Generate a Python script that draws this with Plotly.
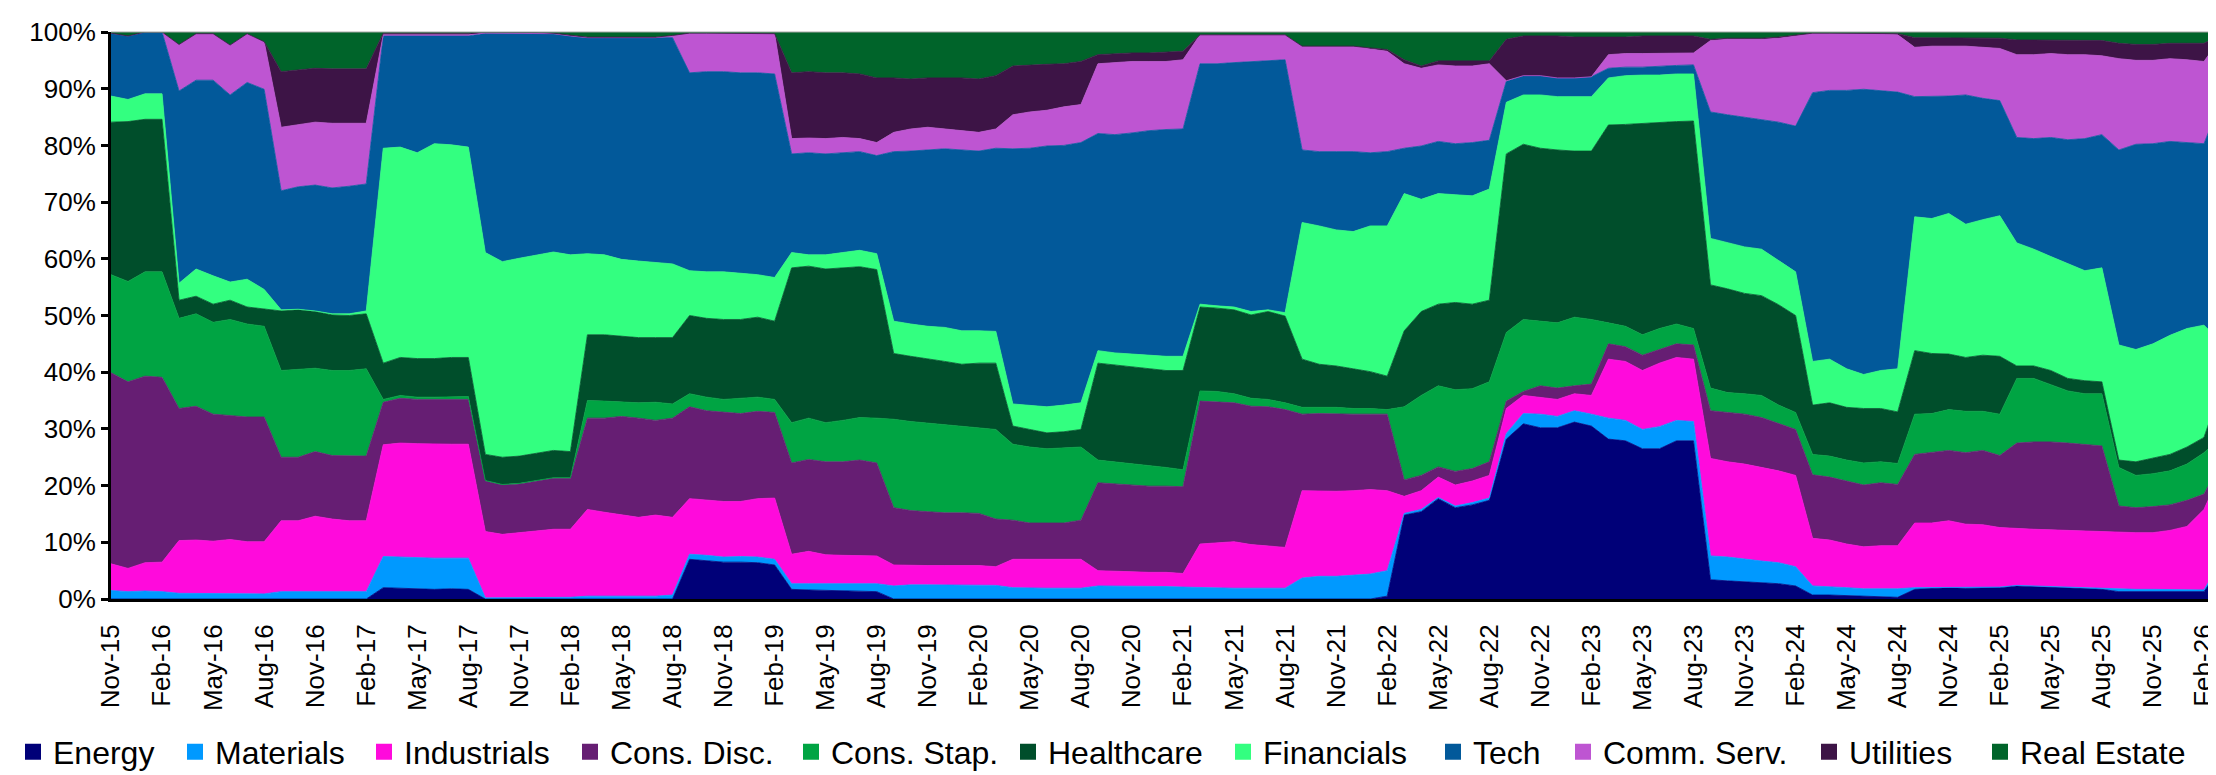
import plotly.graph_objects as go
import pandas as pd

# Monthly categories Nov-15 .. Mar-26
months = pd.date_range("2015-11-01", periods=125, freq="MS").strftime("%b-%y").tolist()
tick_labels = months[::3]

energy = ([0]*16 + [2.0, 1.9, 1.8, 1.7, 1.8, 1.7] + [0]*12 + [7.0, 6.7, 6.5, 6.5, 6.4, 6.0]
          + [1.7, 1.6, 1.5, 1.4, 1.4, 1.3] + [0]*29 + [0.5]
          + [14.8, 15.4, 17.7, 16.1, 16.6, 17.4]
          + [28.2, 30.9, 30.2, 30.2, 31.2, 30.5, 28.2, 27.9, 26.5, 26.5, 27.9, 27.9]
          + [3.4, 3.2, 3.0, 2.8, 2.7, 2.3] + [0.7, 0.7, 0.6, 0.5, 0.5, 0.3]
          + [1.7, 1.9, 2.0, 1.9, 2.0, 2.0] + [2.3, 2.2, 2.0, 2.0, 1.9, 1.7]
          + [1.3, 1.3, 1.4, 1.4, 1.4, 1.3] + [5.7])

materials = ([1.5, 1.3, 1.4, 1.3] + [1.0, 1.0, 1.0, 0.9, 1.0, 0.9] + [1.3]*6
             + [5.5, 5.5, 5.4, 5.5, 5.4, 5.5] + [0.2, 0.2, 0.2, 0.2, 0.2, 0.3]
             + [0.5, 0.5, 0.5, 0.5, 0.5, 0.7] + [0.9, 1.0, 0.9, 1.0, 1.0, 1.0]
             + [1.0, 1.1, 1.2, 1.3, 1.3, 1.4] + [2.3, 2.5, 2.5, 2.5, 2.5, 2.5, 2.4]
             + [2.0, 1.9, 1.9, 1.9, 1.9] + [2.3, 2.3, 2.2, 2.2, 2.2, 2.1]
             + [2.0, 1.9, 1.9, 1.9, 1.9, 1.9] + [3.7, 4.0, 4.0, 4.2, 4.4, 4.5]
             + [0.3, 0.4, 0.2, 0.3, 0.4, 0.4] + [1.0, 1.8, 2.4, 2.0, 2.0, 2.1]
             + [3.7, 3.6, 3.4, 3.9, 3.6, 3.4] + [4.2, 4.2, 4.0, 3.9, 3.7, 3.4]
             + [1.6, 1.5, 1.4, 1.3, 1.3, 1.5] + [0.3, 0.1, 0.1, 0.1, 0.1, 0.1]
             + [0.1]*6 + [0.4, 0.4, 0.3, 0.3, 0.3, 0.3] + [1.0])

industrials = ([4.7, 4.1, 5.0, 5.2] + [9.3, 9.4, 9.2, 9.6, 9.1, 9.2]
               + [12.5, 12.5, 13.3, 12.8, 12.5, 12.5] + [19.7, 20.1, 20.2, 20.1, 20.1, 20.1]
               + [11.7, 11.2, 11.5, 11.9, 12.1, 12.0] + [15.3, 14.8, 14.4, 13.9, 14.3, 13.7]
               + [9.8, 9.7, 9.8, 9.7, 10.3, 10.8] + [5.2, 5.7, 5.1, 5.0, 5.0, 4.9]
               + [3.7, 3.4, 3.4, 3.4, 3.4, 3.4, 3.3] + [5.0, 5.1, 5.1, 5.1, 5.1]
               + [2.7, 2.6, 2.5, 2.5, 2.5, 2.4] + [7.7, 8.0, 8.2, 7.7, 7.5, 7.2]
               + [15.4, 15.0, 15.0, 14.9, 14.9, 14.1] + [3.0, 3.3, 3.6, 3.7, 3.8, 4.0]
               + [4.4, 3.2, 3.0, 3.0, 3.0, 3.3] + [10.4, 10.4, 10.4, 11.2, 11.1, 11.0]
               + [17.2, 16.8, 16.8, 16.5, 16.2, 16.1] + [8.4, 8.2, 7.7, 7.4, 7.6, 7.6]
               + [11.4, 11.4, 11.7, 11.2, 11.0, 10.5] + [10.0, 10.0, 10.1, 10.0, 9.9, 10.1]
               + [10.0, 10.0, 10.0, 10.4, 11.1, 14.2] + [15.8])

cons_disc = ([33.7, 32.9, 32.9, 32.6] + [23.3, 23.6, 22.4, 21.8, 22.0, 22.0]
             + [11.2, 11.2, 11.4, 11.2, 11.4, 11.4] + [7.5, 7.9, 7.8, 7.9, 7.9, 7.9]
             + [8.9, 8.7, 8.6, 8.7, 9.0, 9.0] + [16.1, 16.6, 17.3, 17.5, 16.7, 17.5]
             + [16.2, 15.8, 15.7, 15.5, 15.4, 15.1] + [16.1, 16.2, 16.4, 16.5, 16.8, 16.4]
             + [10.1, 9.7, 9.5, 9.3, 9.3, 9.2, 8.4] + [6.9, 6.4, 6.4, 6.4, 6.9]
             + [15.5, 15.4, 15.4, 15.2, 15.2, 15.3] + [25.2, 24.8, 24.5, 24.4, 24.5, 24.3]
             + [13.5, 13.7, 13.6, 13.5, 13.3, 13.5] + [2.9, 2.7, 1.8, 2.4, 2.2, 2.4]
             + [1.3, 0.7, 2.0, 2.0, 1.4, 2.0] + [2.7, 2.6, 2.7, 2.4, 2.4, 2.5]
             + [8.4, 8.7, 8.8, 8.8, 8.3, 8.1] + [11.2, 11.1, 11.1, 10.9, 11.1, 10.8]
             + [12.1, 12.4, 12.4, 12.6, 13.1, 12.7] + [15.1, 15.4, 15.5, 15.4, 15.3, 15.1]
             + [4.7, 4.4, 4.6, 4.5, 4.6, 2.7] + [1.7])

cons_stap = ([17.3, 17.7, 18.4, 18.6] + [15.9, 16.3, 16.2, 17.0, 16.4, 16.0]
             + [15.3, 15.5, 14.7, 15.0, 15.1, 15.4] + [0.5, 0.5, 0.4, 0.4, 0.5, 0.5]
             + [0.1]*6 + [3.1, 3.0, 2.5, 2.7, 3.2, 2.5]
             + [2.3, 2.4, 2.3, 2.7, 2.5, 2.3] + [7.1, 7.3, 6.9, 7.3, 7.5, 7.9]
             + [15.6, 15.7, 15.6, 15.5, 15.2, 15.1, 15.8] + [13.4, 13.4, 13.1, 13.2, 12.9]
             + [4.0, 3.9, 3.7, 3.6, 3.3, 3.0] + [1.8, 1.9, 1.6, 1.4, 1.3, 1.2]
             + [1.2, 1.1, 1.2, 1.0, 1.0, 0.8] + [12.9, 14.1, 14.3, 14.4, 14.1, 14.1]
             + [12.1, 12.7, 11.4, 11.5, 12.1, 11.4] + [3.7, 3.6, 3.6, 3.7, 3.5, 2.9]
             + [4.0, 3.5, 3.6, 3.9, 3.3, 3.0] + [3.6, 3.7, 3.7, 3.9, 3.7, 3.7]
             + [7.1, 6.9, 7.2, 7.3, 6.9, 7.3] + [11.4, 11.2, 10.1, 9.2, 9.0, 9.2]
             + [6.8, 5.7, 5.8, 6.0, 6.4, 7.3] + [4.3])

healthcare = ([26.9, 28.2, 26.9, 26.9] + [3.2, 3.1, 3.2, 3.4, 3.0, 3.1]
              + [10.5, 10.5, 10.0, 9.8, 9.7, 9.7] + [6.4, 6.7, 6.8, 6.8, 6.9, 6.9]
              + [4.6, 4.8, 4.8, 4.8, 4.8, 4.6] + [11.6, 11.7, 11.6, 11.5, 11.4, 11.7]
              + [13.8, 13.9, 14.1, 13.9, 14.1, 13.8] + [27.3, 26.8, 27.1, 26.9, 26.6, 26.2]
              + [11.6, 11.5, 11.4, 11.2, 11.0, 11.4, 11.7] + [3.2, 3.1, 2.8, 2.9, 3.1]
              + [17.1, 17.1, 17.1, 17.1, 17.1, 17.5] + [14.8, 14.7, 14.8, 14.7, 15.5, 15.3]
              + [8.5, 7.6, 7.3, 7.0, 6.5, 5.9] + [13.4, 14.8, 14.4, 15.4, 14.9, 14.4]
              + [31.5, 30.9, 30.5, 30.5, 29.3, 29.7] + [34.9, 35.6, 37.3, 36.3, 35.7, 36.6]
              + [18.2, 18.3, 17.7, 17.6, 17.7, 17.1] + [8.7, 9.4, 9.3, 9.6, 9.4, 9.1]
              + [11.2, 10.6, 9.8, 9.5, 9.9, 10.2] + [2.2, 2.2, 2.5, 2.2, 2.3, 2.1]
              + [1.3, 2.4, 2.7, 2.9, 3.0, 2.7] + [8.7])

financials = ([4.6, 3.9, 4.5, 4.5] + [3.0, 4.8, 5.0, 3.2, 4.9, 3.4]
              + [0.2, 0.1, 0.1, 0.2, 0.3, 0.5] + [37.9, 37.1, 36.3, 37.9, 37.5, 37.1]
              + [35.6, 34.5, 34.9, 35.0, 35.0, 34.7] + [14.3, 14.1, 13.6, 13.5, 13.3, 13.0]
              + [7.9, 8.2, 8.4, 8.2, 7.5, 7.7] + [2.7, 2.0, 2.5, 2.7, 2.9, 2.8]
              + [5.7, 5.7, 5.7, 6.0, 5.9, 5.7, 5.6] + [3.9, 4.3, 4.6, 4.7, 4.7]
              + [2.2, 2.1, 2.3, 2.4, 2.5, 2.5] + [0.5, 0.4, 0.5, 0.6, 0.3, 0.6]
              + [24.1, 24.4, 24.0, 24.2, 25.7, 26.5] + [24.2, 19.8, 19.5, 19.0, 19.1, 19.6]
              + [9.1, 8.7, 9.4, 9.4, 9.6, 9.6] + [8.3, 8.6, 8.5, 8.4, 8.4, 8.3]
              + [8.2, 8.1, 8.2, 8.2, 7.8, 7.7] + [7.7, 7.7, 6.8, 6.0, 6.7, 7.6]
              + [23.6, 23.8, 24.8, 23.5, 23.9, 24.8] + [21.7, 20.6, 20.1, 20.2, 19.4, 20.1]
              + [20.3, 19.8, 20.2, 21.0, 20.9, 19.8] + [8.1])

tech = ([11.1, 11.2, 10.9, 10.9] + [33.9, 33.3, 34.5, 33.0, 34.7, 35.3]
        + [21.0, 21.6, 22.2, 22.2, 22.5, 22.4] + [19.8, 19.6, 20.6, 19.0, 19.2, 19.6]
        + [38.7, 40.3, 39.7, 39.1, 38.5, 38.6] + [38.1, 38.3, 39.1, 39.4, 39.6, 39.9]
        + [34.9, 35.3, 35.3, 35.3, 35.6, 35.9] + [17.4, 18.0, 17.8, 17.6, 17.4, 17.3]
        + [29.9, 30.5, 31.1, 31.5, 31.9, 31.7, 32.3] + [45.0, 45.3, 46.0, 45.8, 45.9]
        + [38.3, 38.5, 39.0, 39.6, 40.0, 40.1] + [42.4, 42.7, 43.1, 44.1, 44.0, 44.6]
        + [12.8, 13.1, 13.8, 14.1, 12.9, 13.1] + [8.0, 9.4, 9.2, 9.0, 9.4, 8.6]
        + [3.7, 3.4, 3.4, 3.3, 3.3, 3.5] + [1.7, 1.5, 1.4, 1.6, 1.5, 1.6]
        + [22.3, 22.6, 22.9, 22.9, 24.4, 25.7] + [47.4, 47.4, 49.1, 50.3, 49.3, 48.8]
        + [21.2, 21.5, 20.7, 22.8, 21.4, 20.3] + [18.6, 19.5, 21.0, 21.9, 23.3, 23.5]
        + [34.4, 36.2, 35.3, 34.2, 32.8, 32.0] + [42.6])

comm_serv = ([0]*4 + [8.2, 8.2, 8.2, 8.8, 8.6, 8.4] + [11.2, 10.9, 11.1, 11.4, 11.1, 10.7]
             + [0.2]*6 + [0]*6 + [0, 0, 0, 0, 0, 0.3]
             + [7.0, 6.8, 6.8, 7.0, 7.0, 7.1] + [2.7, 2.6, 2.7, 2.7, 2.3, 2.3]
             + [3.4, 3.9, 4.0, 3.5, 3.4, 3.3, 3.4] + [6.0, 6.4, 6.3, 6.8, 6.7]
             + [12.3, 12.7, 12.6, 12.2, 12.0, 12.2] + [5.1, 5.1, 4.9, 4.7, 4.5, 4.4]
             + [18.3, 18.6, 18.6, 18.6, 18.3, 17.7] + [14.9, 13.7, 13.5, 13.7, 13.5, 13.5]
             + [0.1, 0, 0, 0, 0, 0] + [2.4, 2.4, 2.4, 2.2, 2.2, 2.1]
             + [12.6, 13.3, 13.7, 14.1, 14.8, 15.9] + [10.4, 10.0, 10.0, 9.8, 10.1, 10.1]
             + [8.7, 8.9, 8.8, 8.6, 9.0, 9.2] + [14.6, 14.8, 14.8, 15.0, 14.8, 13.9]
             + [16.1, 14.8, 14.7, 14.6, 14.6, 14.5] + [11.1])

utilities = ([0]*10 + [9.8, 9.7, 9.5, 9.6, 9.6, 9.6] + [0.3]*6
             + [0.2, 0.2, 0.2, 0.2, 0.1, 0.1] + [0.1]*6 + [0]*6
             + [11.6, 11.7, 11.6, 11.4, 11.4, 11.4] + [9.6, 8.8, 8.7, 9.0, 9.3, 9.4, 9.4]
             + [8.6, 8.3, 8.1, 7.6, 7.6] + [1.6, 1.6, 1.5, 1.5, 1.6, 1.5] + [0]*6
             + [0, 0, 0, 0, 0.2, 0.3] + [0.7, 0.4, 0.7, 0.9, 0.9, 0.5]
             + [7.3, 7.0, 7.0, 7.4, 7.2, 7.0] + [3.1, 2.9, 3.1, 3.1, 3.0, 3.0]
             + [0.2]*6 + [0.1, 0.1, 0.1, 0.1, 0.1, 0.2]
             + [1.7, 1.5, 1.5, 1.5, 1.7, 1.8] + [2.6, 2.6, 2.4, 2.5, 2.5, 2.7]
             + [2.7, 2.8, 2.8, 2.7, 2.9, 3.2] + [0.5])

real_estate = ([0.2, 0.7, 0, 0] + [2.2, 0.3, 0.3, 2.3, 0.3, 1.7] + [7.0, 6.7, 6.4, 6.5, 6.5, 6.5]
               + [0.2]*6 + [0, 0, 0, 0, 0.2, 0.6] + [0.9, 0.9, 0.9, 0.9, 0.9, 0.6]
               + [0.2, 0.2, 0.2, 0.2, 0.2, 0.3] + [7.2, 7.0, 7.2, 7.2, 7.4, 8.1]
               + [8.1, 8.3, 8.1, 8.1, 8.1, 8.3, 7.7] + [6.0, 5.8, 5.7, 5.6, 5.2]
               + [4.0, 3.8, 3.7, 3.7, 3.6, 3.4] + [0.5]*6
               + [2.5, 2.5, 2.5, 2.5, 2.8, 3.1] + [4.9, 6.0, 5.1, 5.1, 5.1, 5.1]
               + [1.3, 0.7, 0.7, 0.7, 0.9, 0.9] + [0.9, 0.9, 0.7, 0.7, 0.7, 0.7]
               + [1.3, 1.1, 1.1, 1.1, 0.9, 0.5] + [0.2, 0.2, 0.2, 0.2, 0.2, 0.3]
               + [1.0, 1.0, 1.0, 1.0, 1.0, 1.1] + [1.4, 1.4, 1.4, 1.5, 1.5, 1.5]
               + [2.0, 2.2, 2.2, 2.0, 2.0, 2.0] + [0.5])

series_names = ["Energy", "Materials", "Industrials", "Cons. Disc.", "Cons. Stap.",
                "Healthcare", "Financials", "Tech", "Comm. Serv.", "Utilities", "Real Estate"]
series_values = [energy, materials, industrials, cons_disc, cons_stap, healthcare,
                 financials, tech, comm_serv, utilities, real_estate]
series_colors = ["#000078", "#0099FF", "#FF0ADC", "#661E73", "#00A443", "#004E2B",
                 "#33FF80", "#02599A", "#BE55D2", "#3D1446", "#00642A"]

# left edge (px) of each legend swatch in the reference
legend_left_px = [25, 187, 376, 582, 803, 1020, 1235, 1445, 1575, 1821, 1992]

FONT = "Liberation Sans, Arial, sans-serif"
W, H = 2216, 775

fig = go.Figure()
for i, (name, vals, col) in enumerate(zip(series_names, series_values, series_colors)):
    fig.add_trace(go.Scatter(
        x=months, y=vals, name=name, stackgroup="one",
        groupnorm="percent" if i == 0 else None,
        mode="lines", line=dict(width=0.8, color=col), fillcolor=col,
        showlegend=False, hovertemplate=name + " %{x}: %{y:.1f}%<extra></extra>"))

legend_layouts = {}
for i, (name, col, lx) in enumerate(zip(series_names, series_colors, legend_left_px)):
    lid = "legend" if i == 0 else f"legend{i + 1}"
    fig.add_trace(go.Scatter(
        x=[None], y=[None], mode="markers", name=name, legend=lid,
        marker=dict(symbol="square", size=18, color=col), showlegend=True,
        hoverinfo="skip"))
    legend_layouts[lid] = dict(
        orientation="h", xref="container", yref="container",
        x=(lx - 20) / W, xanchor="left", y=31 / H, yanchor="middle",
        font=dict(size=32, family=FONT, color="black"),
        bgcolor="rgba(0,0,0,0)", itemwidth=30)

fig.update_layout(
    width=W, height=H,
    margin=dict(l=103, r=3, t=24, b=184),
    paper_bgcolor="white", plot_bgcolor="white",
    font=dict(family=FONT, color="black"),
    showlegend=True,
    xaxis=dict(type="category", range=[0, len(months) - 1],
               tickmode="array", tickvals=tick_labels, ticktext=tick_labels,
               tickangle=-90, tickfont=dict(size=26, family=FONT, color="black"),
               showline=True, linecolor="black", linewidth=3,
               ticks="", showgrid=False, zeroline=False, ticklabelstandoff=12),
    yaxis=dict(range=[0, 100], dtick=10, ticksuffix="%",
               tickfont=dict(size=26, family=FONT, color="black"),
               showline=True, linecolor="black", linewidth=3,
               ticks="outside", ticklen=7, tickwidth=3, tickcolor="black",
               showgrid=False, zeroline=False),
    shapes=[
        dict(type="line", xref="paper", yref="paper", x0=0, x1=1, y0=1, y1=1,
             line=dict(color="#A6A6A6", width=1), layer="above"),
        dict(type="line", xref="paper", yref="paper", x0=1, x1=1, y0=0, y1=1,
             line=dict(color="#A6A6A6", width=1), layer="above"),
    ],
    **legend_layouts,
)

fig.write_html("out.html")
